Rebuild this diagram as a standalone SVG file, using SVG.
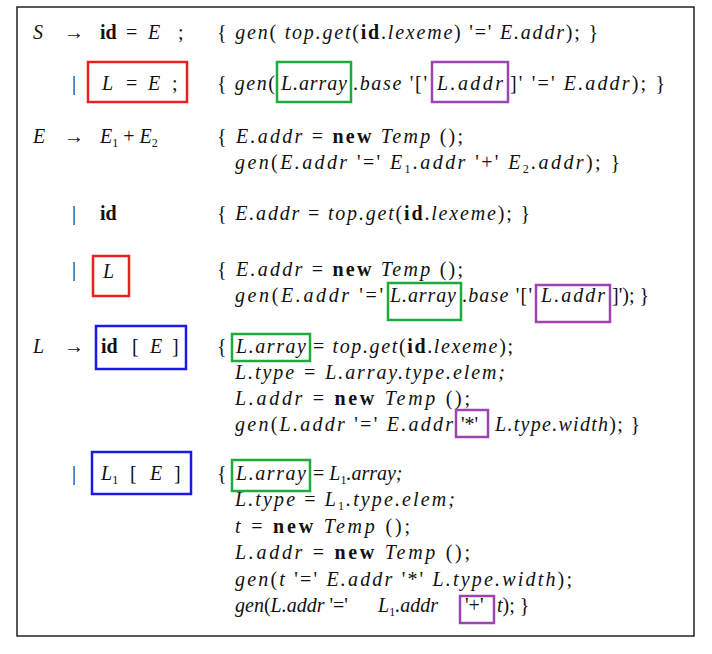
<svg xmlns="http://www.w3.org/2000/svg" width="712" height="654" viewBox="0 0 712 654">
<style>
text{font-family:"Liberation Serif",serif;font-size:20px;fill:#111}
.i{font-style:italic}
.b{font-weight:bold;font-style:normal}
.r{fill:none;stroke:#e8201e;stroke-width:2.5}
.g{fill:none;stroke:#1faa3c;stroke-width:2.5}
.p{fill:none;stroke:#9a45b0;stroke-width:2.5}
.u{fill:none;stroke:#1a1ae8;stroke-width:2.5}
</style>
<rect width="712" height="654" fill="#fff"/>
<rect x="17" y="7" width="677" height="629" fill="none" stroke="#222" stroke-width="1.5"/>
<g id="left">
<text x="33" y="39" class="i">S</text><text x="64" y="39">→</text><text y="39"><tspan x="100" class="b">id</tspan><tspan x="126">=</tspan><tspan x="148" class="i">E</tspan><tspan x="178">;</tspan></text>
<text x="72" y="90">|</text><text y="90"><tspan x="102" class="i">L</tspan><tspan x="126">=</tspan><tspan x="148" class="i">E</tspan><tspan x="172">;</tspan></text>
<text x="33" y="143" class="i">E</text><text x="64" y="143">→</text><text x="100" y="143"><tspan class="i">E</tspan><tspan font-size="12" dy="4">1</tspan><tspan dy="-4"> + </tspan><tspan class="i">E</tspan><tspan font-size="12" dy="4">2</tspan></text>
<text x="72" y="220">|</text><text x="100" y="220" class="b">id</text>
<text x="72" y="276">|</text><text x="103" y="278" class="i">L</text>
<text x="33" y="353" class="i">L</text><text x="64" y="353">→</text><text y="353"><tspan x="101" class="b">id</tspan><tspan x="132">[</tspan><tspan x="150" class="i">E</tspan><tspan x="172">]</tspan></text>
<text x="72" y="480">|</text><text y="480"><tspan x="101" class="i">L</tspan><tspan font-size="12" dy="4">1</tspan><tspan dy="-4" x="130">[</tspan><tspan x="150" class="i">E</tspan><tspan x="174">]</tspan></text>
</g>
<g id="right">
<text x="217" y="39" textLength="381" lengthAdjust="spacing">{ <tspan class="i">gen</tspan>( <tspan class="i">top.get</tspan>(<tspan class="b">id</tspan>.<tspan class="i">lexeme</tspan>) '=' <tspan class="i">E.addr</tspan>); }</text>
<text y="90"><tspan x="217" textLength="58" lengthAdjust="spacing">{ <tspan class="i">gen</tspan>(</tspan><tspan x="281" class="i" textLength="66">L.array</tspan><tspan x="353" textLength="74" lengthAdjust="spacing">.<tspan class="i">base</tspan> '['</tspan><tspan x="437" class="i" textLength="66">L.addr</tspan><tspan x="510" textLength="155" lengthAdjust="spacing">]' '=' <tspan class="i">E.addr</tspan>); }</tspan></text>
<text x="217" y="143" textLength="246" lengthAdjust="spacing">{ <tspan class="i">E.addr</tspan> = <tspan class="b">new</tspan> <tspan class="i">Temp</tspan> ();</text>
<text x="235" y="169" textLength="385" lengthAdjust="spacing"><tspan class="i">gen</tspan>(<tspan class="i">E.addr</tspan> '=' <tspan class="i">E</tspan><tspan font-size="12" dy="4">1</tspan><tspan dy="-4" class="i">.addr</tspan> '+' <tspan class="i">E</tspan><tspan font-size="12" dy="4">2</tspan><tspan dy="-4" class="i">.addr</tspan>); }</text>
<text x="217" y="220" textLength="313" lengthAdjust="spacing">{ <tspan class="i">E.addr</tspan> = <tspan class="i">top.get</tspan>(<tspan class="b">id</tspan>.<tspan class="i">lexeme</tspan>); }</text>
<text x="217" y="276" textLength="246" lengthAdjust="spacing">{ <tspan class="i">E.addr</tspan> = <tspan class="b">new</tspan> <tspan class="i">Temp</tspan> ();</text>
<text y="302"><tspan x="235" textLength="148" lengthAdjust="spacing"><tspan class="i">gen</tspan>(<tspan class="i">E.addr</tspan> '='</tspan><tspan x="390" class="i" textLength="66">L.array</tspan><tspan x="462" textLength="70" lengthAdjust="spacing">.<tspan class="i">base</tspan> '['</tspan><tspan x="541" class="i" textLength="64">L.addr</tspan><tspan x="612">]'); }</tspan></text>
<text y="353"><tspan x="217">{ </tspan><tspan x="236" class="i" textLength="70">L.array</tspan><tspan x="313" textLength="200" lengthAdjust="spacing">= <tspan class="i">top.get</tspan>(<tspan class="b">id</tspan>.<tspan class="i">lexeme</tspan>);</tspan></text>
<text x="235" y="379" class="i" textLength="270" lengthAdjust="spacing">L.type = L.array.type.elem;</text>
<text x="235" y="405" textLength="235" lengthAdjust="spacing"><tspan class="i">L.addr</tspan> = <tspan class="b">new</tspan> <tspan class="i">Temp</tspan> ();</text>
<text y="431"><tspan x="235" textLength="218" lengthAdjust="spacing"><tspan class="i">gen</tspan>(<tspan class="i">L.addr</tspan> '=' <tspan class="i">E.addr</tspan></tspan><tspan x="461">'*'</tspan><tspan x="495" textLength="145" lengthAdjust="spacing"><tspan class="i">L.type.width</tspan>); }</tspan></text>
<text y="480"><tspan x="217">{ </tspan><tspan x="236" class="i" textLength="70">L.array</tspan><tspan x="313">= </tspan><tspan class="i">L</tspan><tspan font-size="12" dy="4">1</tspan><tspan dy="-4" class="i">.array;</tspan></text>
<text x="235" y="506" textLength="220" lengthAdjust="spacing"><tspan class="i">L.type</tspan> = <tspan class="i">L</tspan><tspan font-size="12" dy="4">1</tspan><tspan dy="-4" class="i">.type.elem;</tspan></text>
<text x="235" y="533" textLength="175" lengthAdjust="spacing"><tspan class="i">t</tspan> = <tspan class="b">new</tspan> <tspan class="i">Temp</tspan> ();</text>
<text x="235" y="559" textLength="235" lengthAdjust="spacing"><tspan class="i">L.addr</tspan> = <tspan class="b">new</tspan> <tspan class="i">Temp</tspan> ();</text>
<text x="235" y="586" textLength="337" lengthAdjust="spacing"><tspan class="i">gen</tspan>(<tspan class="i">t</tspan> '=' <tspan class="i">E.addr</tspan> '*' <tspan class="i">L.type.width</tspan>);</text>
<text y="612"><tspan x="235" class="i">gen</tspan><tspan>(</tspan><tspan class="i">L.addr</tspan><tspan> '=' </tspan><tspan x="378" class="i">L</tspan><tspan font-size="12" dy="4">1</tspan><tspan dy="-4" class="i">.addr</tspan><tspan x="465">'+'</tspan><tspan x="497" class="i">t</tspan>); }</text>
</g>
<g id="boxes">
<rect class="r" x="88" y="62" width="99" height="40"/>
<rect class="g" x="277" y="62" width="74" height="40"/>
<rect class="p" x="432" y="62" width="76" height="40"/>
<rect class="r" x="93" y="256" width="36" height="40"/>
<rect class="g" x="388" y="283" width="73" height="37"/>
<rect class="p" x="536" y="285" width="74" height="37"/>
<rect class="u" x="96" y="326" width="90" height="43"/>
<rect class="g" x="232" y="334" width="78" height="27"/>
<rect class="p" x="456" y="410" width="32" height="27"/>
<rect class="u" x="92" y="452" width="99" height="42"/>
<rect class="g" x="232" y="460" width="78" height="31"/>
<rect class="p" x="460" y="596" width="34" height="27"/>
</g>
</svg>
